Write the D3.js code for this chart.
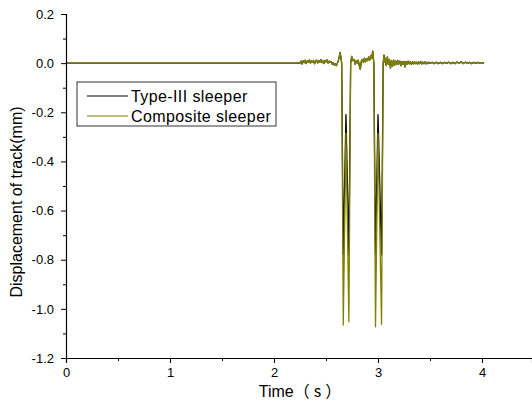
<!DOCTYPE html>
<html>
<head>
<meta charset="utf-8">
<script src="https://cdn.jsdelivr.net/npm/d3@7"></script>
<style>
  body { margin: 0; background: #fff; }
  svg { display: block; }
  text { font-family: "Liberation Sans", Arial, "Noto Sans CJK SC", sans-serif; fill: #000; }
</style>
</head>
<body>
<svg id="chart"></svg>
<script>
// time (s)
var timeS = [0, 2.25,
  2.26, 2.27, 2.28, 2.29, 2.30, 2.31, 2.32, 2.33, 2.34, 2.35, 2.36, 2.37, 2.38, 2.39, 2.40,
  2.41, 2.42, 2.43, 2.44, 2.45, 2.46, 2.47, 2.48, 2.49, 2.50, 2.51, 2.52, 2.53, 2.54, 2.55,
  2.56, 2.57, 2.58, 2.59, 2.60, 2.61, 2.62, 2.63, 2.636,
  2.651, 2.666, 2.692, 2.72, 2.737, 2.747,
  2.76, 2.77, 2.78, 2.79, 2.80, 2.81, 2.82, 2.83, 2.84, 2.85, 2.86, 2.87, 2.88, 2.89, 2.90,
  2.91, 2.92, 2.93, 2.94, 2.949,
  2.96, 2.976, 3.0, 3.034, 3.05, 3.058,
  3.065, 3.07, 3.08, 3.09, 3.10, 3.11, 3.12, 3.13, 3.14, 3.15, 3.16, 3.17, 3.18, 3.19, 3.20,
  3.21, 3.22, 3.23, 3.24, 3.25, 3.26, 3.27, 3.28, 3.29, 3.30, 3.31, 3.32, 3.33, 3.34, 3.35,
  3.36, 3.37, 3.38, 3.39, 3.40, 3.41, 3.42, 3.43, 3.44, 3.45, 3.46, 3.47, 3.48, 3.49, 3.50,
  3.52, 3.54, 3.56, 3.58, 3.60, 3.62, 3.64, 3.66, 3.68, 3.70, 3.72, 3.74, 3.76, 3.78, 3.80,
  3.82, 3.84, 3.86, 3.88, 3.90, 3.92, 3.94, 3.96, 3.98, 4.00, 4.02];

// displacement (mm), composite sleeper
var composite = [0, 0,
  0.008, -0.004, 0.010, 0.002, 0.012, -0.002, 0.009, 0.004, 0.013, 0.000, 0.010, 0.003, 0.011, -0.003, 0.008,
  0.012, 0.001, 0.010, 0.004, 0.014, 0.002, 0.009, -0.002, 0.011, 0.005, 0.013, 0.000, 0.008, 0.003, 0.006,
  -0.004, 0.002, -0.008, -0.002, -0.010, 0.000, 0.012, 0.030, 0.044,
  0.000, -1.066, -0.285, -1.053, 0.000, 0.027,
  0.010, 0.015, -0.005, 0.010, 0.000, 0.012, -0.010, -0.025, 0.008, 0.015, 0.002, 0.020, 0.005, 0.018, 0.010,
  0.025, 0.012, 0.030, 0.020, 0.049,
  0.000, -1.073, -0.285, -1.063, 0.000, 0.033,
  0.005, 0.020, -0.010, 0.025, -0.005, 0.015, -0.020, 0.010, -0.012, 0.012, -0.008, 0.009, -0.006, 0.011, -0.004,
  0.008, -0.010, 0.006, -0.005, 0.007, -0.015, 0.006, -0.004, 0.008, -0.003, 0.006, -0.004, 0.005, -0.003, 0.006,
  -0.002, 0.004, -0.004, 0.005, -0.002, 0.007, -0.003, 0.004, -0.002, 0.005, -0.003, 0.003, -0.002, 0.004, -0.001,
  0.003, -0.002, 0.004, -0.002, 0.003, -0.002, 0.003, -0.001, 0.004, -0.002, 0.003, -0.002, 0.005, -0.001, 0.006,
  -0.002, 0.004, -0.001, 0.003, -0.002, 0.003, -0.001, 0.003, -0.001, 0.002, 0.000];

// displacement (mm), Type-III sleeper
var typeIII = [0, 0,
  0.008, -0.004, 0.010, 0.002, 0.012, -0.002, 0.009, 0.004, 0.013, 0.000, 0.010, 0.003, 0.011, -0.003, 0.008,
  0.012, 0.001, 0.010, 0.004, 0.014, 0.002, 0.009, -0.002, 0.011, 0.005, 0.013, 0.000, 0.008, 0.003, 0.006,
  -0.004, 0.002, -0.008, -0.002, -0.010, 0.000, 0.012, 0.030, 0.044,
  0.000, -0.780, -0.210, -0.780, 0.000, 0.027,
  0.010, 0.015, -0.005, 0.010, 0.000, 0.012, -0.010, -0.025, 0.008, 0.015, 0.002, 0.020, 0.005, 0.018, 0.010,
  0.025, 0.012, 0.030, 0.020, 0.049,
  0.000, -0.780, -0.210, -0.780, 0.000, 0.033,
  0.005, 0.020, -0.010, 0.025, -0.005, 0.015, -0.020, 0.010, -0.012, 0.012, -0.008, 0.009, -0.006, 0.011, -0.004,
  0.008, -0.010, 0.006, -0.005, 0.007, -0.015, 0.006, -0.004, 0.008, -0.003, 0.006, -0.004, 0.005, -0.003, 0.006,
  -0.002, 0.004, -0.004, 0.005, -0.002, 0.007, -0.003, 0.004, -0.002, 0.005, -0.003, 0.003, -0.002, 0.004, -0.001,
  0.003, -0.002, 0.004, -0.002, 0.003, -0.002, 0.003, -0.001, 0.004, -0.002, 0.003, -0.002, 0.005, -0.001, 0.006,
  -0.002, 0.004, -0.001, 0.003, -0.002, 0.003, -0.001, 0.003, -0.001, 0.002, 0.000];

var xTicks = [0, 1, 2, 3, 4];
var xMinorTicks = [0.5, 1.5, 2.5, 3.5];
var yTicks = [0.2, 0.0, -0.2, -0.4, -0.6, -0.8, -1.0, -1.2];
var yMinorTicks = [0.1, -0.1, -0.3, -0.5, -0.7, -0.9, -1.1];

var seriesNames = ['Type-III sleeper', 'Composite sleeper'];
var seriesColors = ['#000000', '#808000'];

var svgWidth = 532;
var svgHeight = 403;

var plotLeft = 66;
var plotTop = 14;
var plotBottom = 358;
var unitX = 104;

var svg = d3.select('#chart').attr('width', svgWidth).attr('height', svgHeight);

var xScale = d3.scaleLinear()
  .domain([0, (svgWidth - plotLeft) / unitX])
  .range([plotLeft, svgWidth]);

var yScale = d3.scaleLinear()
  .domain([-1.2, 0.2])
  .range([plotBottom, plotTop]);

var line = d3.line()
  .x(function(d) { return xScale(d[0]); })
  .y(function(d) { return yScale(d[1]); });

var seriesData = [typeIII, composite];

seriesData.forEach(function(vals, i) {
  svg.append('path')
    .datum(vals.map(function(v, j) { return [timeS[j], v]; }))
    .attr('fill', 'none')
    .attr('stroke', seriesColors[i])
    .attr('stroke-width', 1.3)
    .attr('stroke-linejoin', 'round')
    .attr('d', line);
});

// axes
svg.append('g')
  .attr('transform', 'translate(0,' + plotBottom + ')')
  .call(d3.axisBottom(xScale).tickValues(xTicks).tickSize(5).tickPadding(5).tickFormat(d3.format('d')));

svg.append('g')
  .attr('transform', 'translate(0,' + plotBottom + ')')
  .call(d3.axisBottom(xScale).tickValues(xMinorTicks).tickSize(3).tickFormat(''))
  .select('.domain').remove();

svg.append('g')
  .attr('transform', 'translate(' + plotLeft + ',0)')
  .call(d3.axisLeft(yScale).tickValues(yTicks).tickSize(5).tickPadding(7)
    .tickFormat(function(d) { return d.toFixed(1); }));

svg.append('g')
  .attr('transform', 'translate(' + plotLeft + ',0)')
  .call(d3.axisLeft(yScale).tickValues(yMinorTicks).tickSize(3).tickFormat(''))
  .select('.domain').remove();

svg.selectAll('.domain').attr('stroke', '#000').attr('stroke-width', 1.2);
svg.selectAll('.tick line').attr('stroke', '#000');
svg.selectAll('.tick text').attr('font-size', 13).attr('font-family', '"Liberation Sans", Arial, sans-serif');

// axis titles
var xTitle = svg.append('text')
  .attr('text-anchor', 'middle')
  .attr('x', 302)
  .attr('y', 397)
  .attr('font-size', 16);
xTitle.append('tspan').text('Time');
xTitle.append('tspan').text('（s）').attr('font-family', '"Noto Sans CJK SC", sans-serif')
  .attr('letter-spacing', 4);

svg.append('text')
  .text('Displacement of track(mm)')
  .attr('text-anchor', 'middle')
  .attr('transform', 'translate(22,202) rotate(-90)')
  .attr('font-size', 16);

// legend
var legend = svg.append('g').attr('transform', 'translate(77,82)');

legend.append('rect')
  .attr('x', 0)
  .attr('y', 0)
  .attr('width', 199)
  .attr('height', 44)
  .attr('fill', '#fff')
  .attr('stroke', '#333')
  .attr('stroke-width', 1);

seriesNames.forEach(function(name, i) {
  var rowY = 14 + i * 20;
  legend.append('line')
    .attr('x1', 10)
    .attr('x2', 51)
    .attr('y1', rowY)
    .attr('y2', rowY)
    .attr('stroke', seriesColors[i])
    .attr('stroke-width', 1.2);
  legend.append('text')
    .text(name)
    .attr('x', 54)
    .attr('y', rowY + 6)
    .attr('font-size', 16)
    .attr('letter-spacing', 0.4);
});
</script>
</body>
</html>
